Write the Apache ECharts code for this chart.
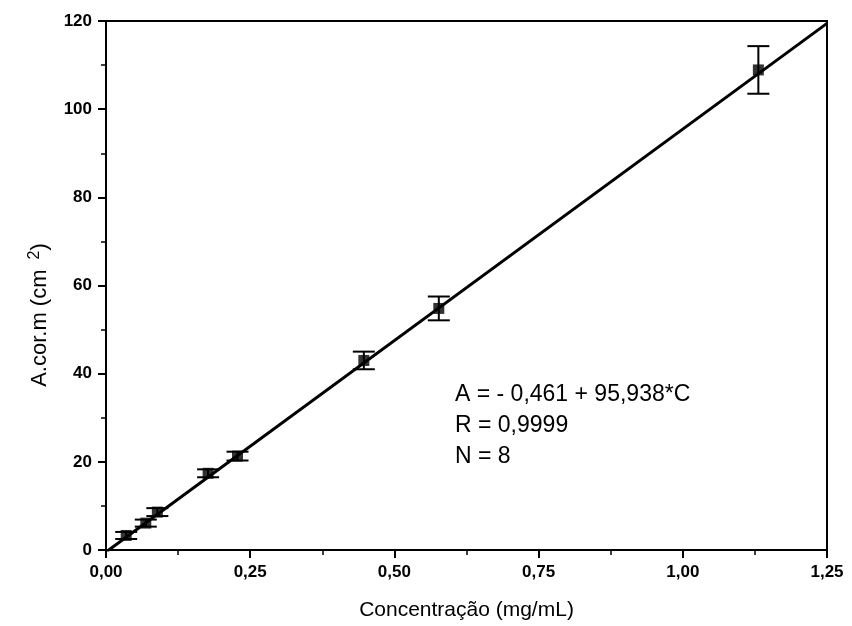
<!DOCTYPE html>
<html>
<head>
<meta charset="utf-8">
<script src="https://cdn.jsdelivr.net/npm/echarts@6/dist/echarts.min.js"></script>
<style>
html,body{margin:0;padding:0;background:#fff;}
#c{width:852px;height:626px;}
</style>
</head>
<body>
<div id="c"></div>
<script>
// Data
var concentration = [0.035, 0.069, 0.089, 0.177, 0.228, 0.447, 0.577, 1.131];
var area = [3.3, 6.1, 8.6, 17.4, 21.3, 43.0, 54.8, 108.9];
var areaError = [0.8, 0.8, 0.9, 0.9, 1.0, 2.0, 2.7, 5.4];
// Regression line A = -0.461 + 95.938*C, drawn between axis limits
var fitC = [0, 1.25];
var fitA = [-0.461, 119.462];
var xTicks = ['0,00', '0,25', '0,50', '0,75', '1,00', '1,25'];
var yTicks = ['0', '20', '40', '60', '80', '100', '120'];
var annotation = ['A = - 0,461 + 95,938*C', 'R = 0,9999', 'N = 8'];

var pts = concentration.map(function (c, i) { return [c, area[i]]; });
var errs = concentration.map(function (c, i) { return [c, area[i] - areaError[i], area[i] + areaError[i]]; });
var fitPts = fitC.map(function (c, i) { return [c, fitA[i]]; });

var font = '"Liberation Sans", Arial, sans-serif';
var chart = echarts.init(document.getElementById('c'));
chart.setOption({
  animation: false,
  backgroundColor: '#fff',
  grid: { left: 106, right: 25, top: 21, bottom: 76, show: true, borderColor: '#000', borderWidth: 2, backgroundColor: 'transparent' },
  xAxis: {
    type: 'value', min: 0, max: 1.25, interval: 0.25,
    name: 'Concentração (mg/mL)', nameLocation: 'middle', nameGap: 50,
    nameTextStyle: { fontFamily: font, fontSize: 21, color: '#000' },
    axisLine: { show: true, onZero: false, lineStyle: { color: '#000', width: 2 } },
    axisTick: { show: true, inside: false, length: 8, lineStyle: { color: '#000', width: 2 } },
    minorTick: { show: true, splitNumber: 2, length: 5, lineStyle: { color: '#000', width: 1.5 } },
    splitLine: { show: false },
    axisLabel: { fontFamily: font, fontSize: 17, fontWeight: 'bold', color: '#000', margin: 14,
      formatter: function (v) { return xTicks[Math.round(v / 0.25)]; } }
  },
  yAxis: {
    type: 'value', min: 0, max: 120, interval: 20,
    axisLine: { show: true, onZero: false, lineStyle: { color: '#000', width: 2 } },
    axisTick: { show: true, inside: false, length: 8, lineStyle: { color: '#000', width: 2 } },
    minorTick: { show: true, splitNumber: 2, length: 5, lineStyle: { color: '#000', width: 1.5 } },
    splitLine: { show: false },
    axisLabel: { fontFamily: font, fontSize: 17, fontWeight: 'bold', color: '#000', margin: 14,
      formatter: function (v) { return yTicks[Math.round(v / 20)]; } }
  },
  graphic: [{
    type: 'text', x: 40, y: 315, rotation: Math.PI / 2,
    style: { text: 'A.cor.m (cm {sup|2})', fontFamily: font, fontSize: 22, fill: '#000',
      align: 'center', verticalAlign: 'middle',
      rich: { sup: { fontFamily: font, fontSize: 16, verticalAlign: 'top', padding: [0, 0, 10, 4], fill: '#000' } } }
  }, {
    type: 'text', left: 455, top: 379,
    style: { text: annotation.join('\n'), fontFamily: font, fontSize: 23, lineHeight: 31, fill: '#000' }
  }],
  series: [
    {
      type: 'line', data: fitPts, showSymbol: false, symbol: 'none', clip: true,
      lineStyle: { color: '#000', width: 3 }, z: 2
    },
    {
      type: 'custom', data: errs, z: 3,
      renderItem: function (params, api) {
        var x = api.value(0);
        var lo = api.coord([x, api.value(1)]);
        var hi = api.coord([x, api.value(2)]);
        var hw = 11;
        var st = { stroke: '#000', lineWidth: 2 };
        return { type: 'group', children: [
          { type: 'line', shape: { x1: lo[0], y1: lo[1], x2: hi[0], y2: hi[1] }, style: st },
          { type: 'line', shape: { x1: lo[0] - hw, y1: lo[1], x2: lo[0] + hw, y2: lo[1] }, style: st },
          { type: 'line', shape: { x1: hi[0] - hw, y1: hi[1], x2: hi[0] + hw, y2: hi[1] }, style: st }
        ] };
      }
    },
    {
      type: 'scatter', data: pts, symbol: 'rect', symbolSize: 11, z: 4,
      itemStyle: { color: '#000' }
    }
  ]
});
</script>
</body>
</html>
